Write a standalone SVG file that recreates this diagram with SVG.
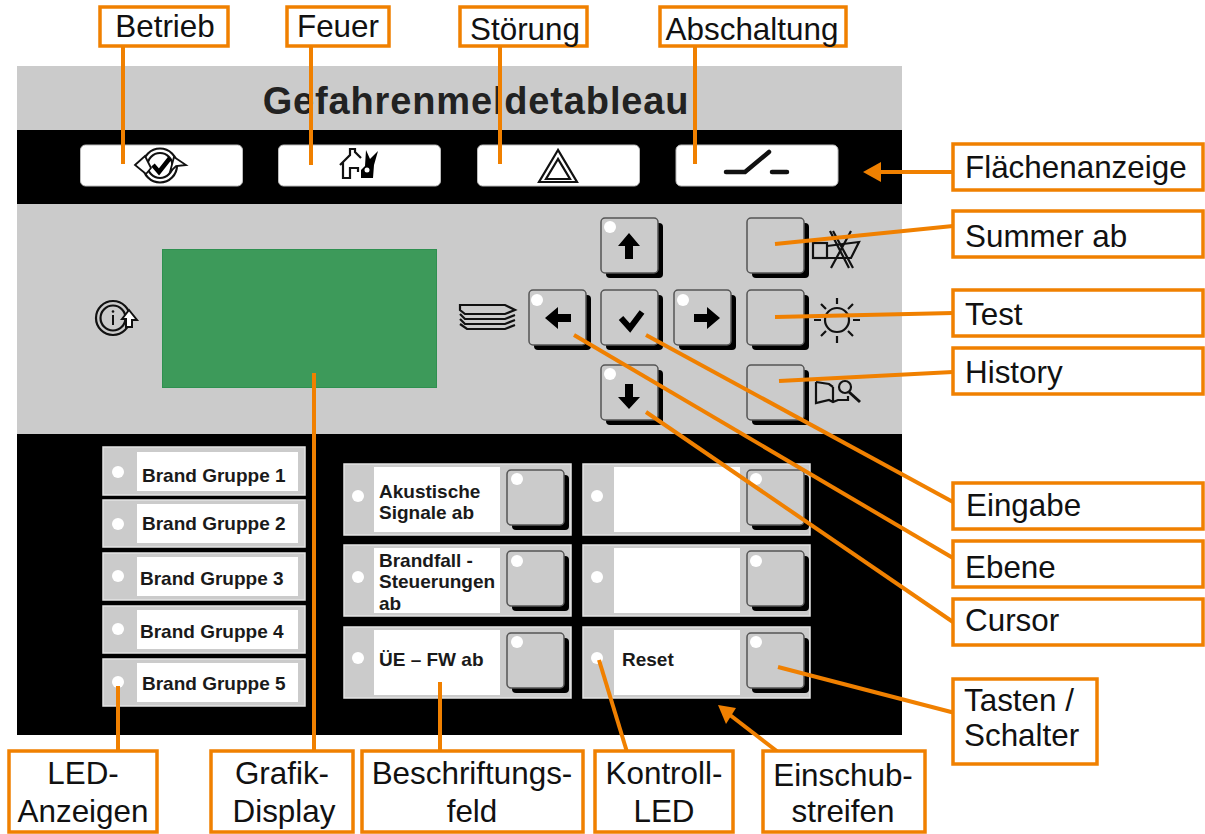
<svg xmlns="http://www.w3.org/2000/svg" width="1205" height="834" viewBox="0 0 1205 834">
<style>
.lb{fill:#fff;stroke:#f08000;stroke-width:3.5}
.t{font-family:"Liberation Sans",Arial,sans-serif;font-size:31.4px;fill:#111}
.m{text-anchor:middle}
.b{font-family:"Liberation Sans",Arial,sans-serif;font-size:19px;font-weight:bold;fill:#1a1a1a}
.ln{stroke:#f08000;stroke-width:4;fill:none}
.strip{fill:#cbcbcb;stroke:#e4e4e4;stroke-width:1.5}
.w{fill:#fff}
.led{fill:#fff}
.sh{fill:#000}
.key{fill:#cbcbcb;stroke:#555;stroke-width:1.5}
.ic{fill:none;stroke:#111;stroke-width:2.2}
.f{fill:#000}
.ao{fill:#f08000}
</style>
<defs>
<g id="k"><rect class="sh" x="5" y="5" width="57" height="55" rx="4"/><rect class="key" x="0" y="0" width="57" height="55" rx="4"/></g>
</defs>
<g id="panel">
<rect x="17" y="66" width="885" height="64" fill="#cbcbcb"/>
<rect x="17" y="130" width="885" height="74" fill="#000"/>
<rect x="17" y="204" width="885" height="230" fill="#cbcbcb"/>
<rect x="17" y="434" width="885" height="301" fill="#000"/>
<text x="476" y="114" class="m" font-family="Liberation Sans,Arial,sans-serif" font-size="38" font-weight="bold" letter-spacing=".85" fill="#222">Gefahrenmeldetableau</text>
</g>
<g id="flaechen">
<rect x="80.500" y="145" width="162" height="41" rx="5" fill="#fff" stroke="#bbb"/>
<rect x="278.500" y="145" width="162" height="41" rx="5" fill="#fff" stroke="#bbb"/>
<rect x="477.500" y="145" width="162" height="41" rx="5" fill="#fff" stroke="#bbb"/>
<rect x="676" y="145" width="162" height="41" rx="5" fill="#fff" stroke="#bbb"/>
<circle class="ic" cx="160" cy="165.500" r="17"/><circle class="ic" cx="160" cy="165.500" r="12.500"/>
<path d="M135 165L145 156L151 168L146 174ZM174 157L186 165L176 166L170 172Z" fill="#fff" stroke="#111" stroke-width="1.800"/>
<path d="M153 165L159 172L170 158" fill="none" stroke="#000" stroke-width="4.500"/>
<path class="ic" d="M340 165L350 155V149H355V152L361 158M343 162V178H350V168H358V172"/>
<path class="f" d="M361 178V170L365 166L366 150L370 159L378 151L374 165L373 178Z"/>
<circle cx="367" cy="170" r="2.500" fill="#fff"/>
<path class="ic" stroke-width="2.500" d="M558 150L539 182H577Z M558 159L546 179H570Z"/>
<path d="M726 172H745L769 152M772 172H787" fill="none" stroke="#111" stroke-width="4.500" stroke-linecap="round"/>
</g>
<g id="display"><rect x="162.500" y="249.500" width="274" height="138" fill="#3d9a5a" stroke="#2f9050"/>
<circle class="ic" cx="113" cy="318" r="17"/><circle class="ic" cx="113" cy="318" r="12.500" stroke-width="1.500"/>
<path d="M122 319L129 310L137 320H132V327H126V319Z" fill="#fff" stroke="#111" stroke-width="2"/>
<path d="M113 315V325" stroke="#111" stroke-width="2"/><circle cx="113" cy="311.500" r="1.300" fill="#111"/>
<path class="ic" d="M460 305H505L515 310L505 314H465L460 310ZM460 314L465 319H505L515 315M460 319L465 324H505L515 320M460 324L467 329H505L515 325"/>
</g>
<g id="keys">
<use href="#k" x="601" y="218"/><use href="#k" x="529" y="290"/><use href="#k" x="601" y="290"/><use href="#k" x="674" y="290"/><use href="#k" x="601" y="365"/>
<use href="#k" x="747" y="218"/><use href="#k" x="747" y="290"/><use href="#k" x="747" y="365"/>
<circle class="led" cx="610" cy="227" r="6"/><circle class="led" cx="537" cy="300" r="6"/><circle class="led" cx="683" cy="300" r="6"/><circle class="led" cx="610" cy="374" r="6"/>
<path class="f" d="M629 233L640 246H633V259H625V246H618Z"/>
<path class="f" d="M545 318L558 307V314H571V322H558V329Z"/>
<path d="M621 318L630 328L642 312" fill="none" stroke="#000" stroke-width="6"/>
<path class="f" d="M720 318L707 307V314H694V322H707V329Z"/>
<path class="f" d="M629 409L640 397H633V384H625V397H618Z"/>
<rect class="ic" x="813" y="243" width="14" height="15"/>
<path class="ic" stroke-width="2" d="M827 246L859 242L851 258H827"/>
<path class="ic" stroke-width="2.600" d="M830 231L849 268M851 231L831 268M833 231L853 268"/>
<circle class="ic" cx="837" cy="320" r="12"/>
<path class="ic" d="M837 298V304M837 336V343M814 320H821M853 320H860M821 304L826 309M853 304L848 309M821 336L826 331M853 336L848 331"/>
<path class="ic" d="M816 382L829 384L833 387M833 387V402M816 382V403L829 400L833 402L838 400H848V396"/>
<circle class="ic" cx="845" cy="387" r="6"/><path d="M849 392L860 402" stroke="#111" stroke-width="3"/>
</g>
<g id="brand">
<g id="brand1"><rect class="strip" x="103" y="447" width="202" height="48"/><rect class="w" x="137" y="452" width="161" height="39"/><circle class="led" cx="118" cy="472" r="6"/><text class="b" x="142" y="482">Brand Gruppe 1</text></g>
<g id="brand2"><rect class="strip" x="103" y="500" width="202" height="47"/><rect class="w" x="137" y="504" width="161" height="39"/><circle class="led" cx="118" cy="524" r="6"/><text class="b" x="142" y="530">Brand Gruppe 2</text></g>
<g id="brand3"><rect class="strip" x="103" y="553" width="202" height="47"/><rect class="w" x="137" y="557" width="161" height="39"/><circle class="led" cx="118" cy="576" r="6"/><text class="b" x="140" y="585">Brand Gruppe 3</text></g>
<g id="brand4"><rect class="strip" x="103" y="606" width="202" height="47"/><rect class="w" x="137" y="610" width="161" height="39"/><circle class="led" cx="118" cy="629" r="6"/><text class="b" x="140" y="638">Brand Gruppe 4</text></g>
<g id="brand5"><rect class="strip" x="103" y="659" width="202" height="47"/><rect class="w" x="137" y="663" width="161" height="39"/><circle class="led" cx="118" cy="682" r="6"/><text class="b" x="142" y="690">Brand Gruppe 5</text></g>
</g>
<g id="strips">
<g id="s1"><rect class="strip" x="344" y="464" width="227" height="71"/><rect class="w" x="374" y="467" width="126" height="65"/><use href="#k" x="507" y="470"/><circle class="led" cx="517" cy="479" r="6"/><circle class="led" cx="358" cy="496" r="6"/><text class="b" x="379" y="498">Akustische</text><text class="b" x="379" y="519">Signale ab</text></g>
<g id="s2"><rect class="strip" x="344" y="545" width="227" height="71"/><rect class="w" x="374" y="548" width="126" height="65"/><use href="#k" x="507" y="551"/><circle class="led" cx="517" cy="561" r="6"/><circle class="led" cx="358" cy="577" r="6"/><text class="b" x="379" y="567">Brandfall -</text><text class="b" x="379" y="588">Steuerungen</text><text class="b" x="379" y="610">ab</text></g>
<g id="s3"><rect class="strip" x="344" y="627" width="227" height="71"/><rect class="w" x="374" y="630" width="126" height="65"/><use href="#k" x="507" y="633"/><circle class="led" cx="517" cy="642" r="6"/><circle class="led" cx="358" cy="658" r="6"/><text class="b" x="379" y="666">ÜE – FW ab</text></g>
<g id="s4"><rect class="strip" x="583" y="464" width="227" height="71"/><rect class="w" x="614" y="467" width="126" height="65"/><use href="#k" x="747" y="470"/><circle class="led" cx="756" cy="479" r="6"/><circle class="led" cx="597" cy="496" r="6"/></g>
<g id="s5"><rect class="strip" x="583" y="545" width="227" height="71"/><rect class="w" x="614" y="548" width="126" height="65"/><use href="#k" x="747" y="551"/><circle class="led" cx="756" cy="561" r="6"/><circle class="led" cx="597" cy="577" r="6"/></g>
<g id="s6"><rect class="strip" x="583" y="627" width="227" height="71"/><rect class="w" x="614" y="630" width="126" height="65"/><use href="#k" x="747" y="633"/><circle class="led" cx="756" cy="642" r="6"/><circle class="led" cx="597" cy="658" r="6"/><text class="b" x="622" y="666">Reset</text></g>
</g>
<g id="connectors">
<path class="ln" d="M123 45V164"/><path class="ln" d="M311 45V165"/><path class="ln" d="M500 45V164"/><path class="ln" d="M695 45V164"/>
<path class="ln" d="M953 172H880"/><path class="ao" d="M863 172L881 162V182Z"/>
<path class="ln" d="M775 244L953 226"/><path class="ln" d="M775 317L953 313"/><path class="ln" d="M779 381L953 372"/>
<path class="ln" d="M646 335L953 502"/><path class="ln" d="M574 335L953 558"/><path class="ln" d="M646 412L953 622"/>
<path class="ln" d="M778 667L955 713"/>
<path class="ln" d="M118 686V750"/><path class="ln" d="M314 373V750"/><path class="ln" d="M440 682V750"/>
<path class="ln" d="M599 660L627 752"/>
<path class="ln" d="M778 752L730 715"/><path class="ao" d="M718 705L736 708L726 724Z"/>
</g>
<g id="labels">
<g id="l-betrieb"><rect class="lb" x="100" y="7" width="128" height="39"/><text class="t m" x="165" y="37">Betrieb</text></g>
<g id="l-feuer"><rect class="lb" x="287" y="7" width="102" height="39"/><text class="t m" x="338" y="37">Feuer</text></g>
<g id="l-stoerung"><rect class="lb" x="460" y="7" width="127" height="39"/><text class="t m" x="525" y="40">Störung</text></g>
<g id="l-abschaltung"><rect class="lb" x="660" y="7" width="186" height="39"/><text class="t m" x="752" y="40">Abschaltung</text></g>
<g id="l-flaeche"><rect class="lb" x="953" y="144" width="250" height="46"/><text class="t" x="965" y="178">Flächenanzeige</text></g>
<g id="l-summer"><rect class="lb" x="953" y="211" width="250" height="46"/><text class="t" x="965" y="247">Summer ab</text></g>
<g id="l-test"><rect class="lb" x="953" y="290" width="250" height="46"/><text class="t" x="965" y="325">Test</text></g>
<g id="l-history"><rect class="lb" x="953" y="348" width="250" height="46"/><text class="t" x="965" y="383">History</text></g>
<g id="l-eingabe"><rect class="lb" x="953" y="483" width="250" height="46"/><text class="t" x="966" y="516">Eingabe</text></g>
<g id="l-ebene"><rect class="lb" x="953" y="541" width="250" height="46"/><text class="t" x="965" y="578">Ebene</text></g>
<g id="l-cursor"><rect class="lb" x="953" y="599" width="250" height="46"/><text class="t" x="965" y="631">Cursor</text></g>
<g id="l-tasten"><rect class="lb" x="953" y="679" width="144" height="85"/><text class="t" x="964" y="711">Tasten /</text><text class="t" x="964" y="746">Schalter</text></g>
<g id="l-led"><rect class="lb" x="9" y="751" width="148" height="81"/><text class="t m" x="83" y="784">LED-</text><text class="t m" x="83" y="822">Anzeigen</text></g>
<g id="l-grafik"><rect class="lb" x="211" y="751" width="142" height="81"/><text class="t m" x="282" y="784">Grafik-</text><text class="t m" x="284" y="822">Display</text></g>
<g id="l-beschr"><rect class="lb" x="362" y="751" width="221" height="81"/><text class="t m" x="472" y="784">Beschriftungs-</text><text class="t m" x="472" y="822">feld</text></g>
<g id="l-kontroll"><rect class="lb" x="595" y="751" width="138" height="81"/><text class="t m" x="664" y="784">Kontroll-</text><text class="t m" x="664" y="822">LED</text></g>
<g id="l-einschub"><rect class="lb" x="763" y="751" width="162" height="81"/><text class="t m" x="843" y="786">Einschub-</text><text class="t m" x="843" y="822">streifen</text></g>
</g>
</svg>
